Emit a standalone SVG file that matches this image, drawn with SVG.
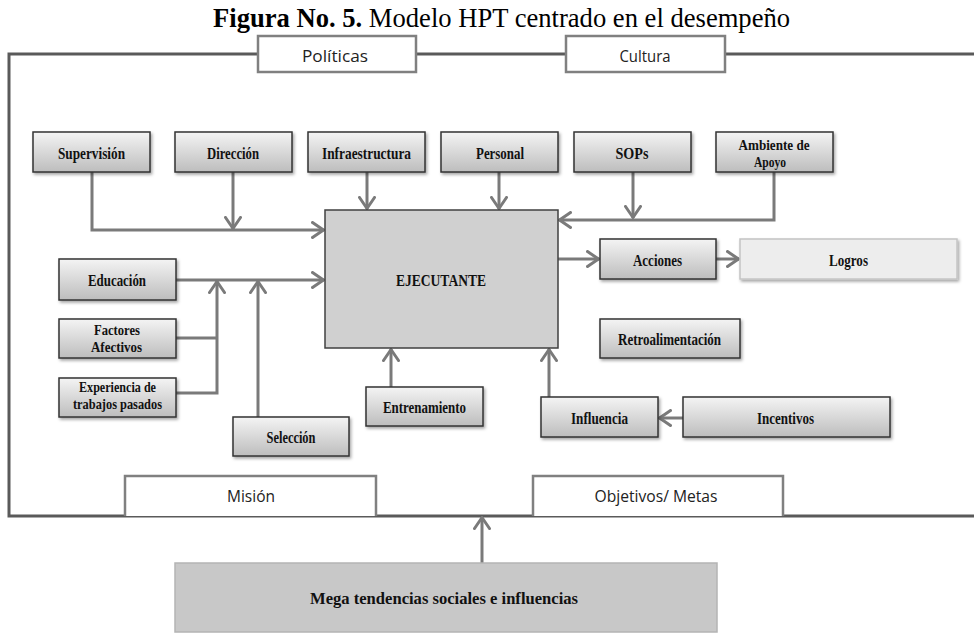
<svg xmlns="http://www.w3.org/2000/svg" width="974" height="634" viewBox="0 0 974 634">
<defs>
<linearGradient id="g" x1="0" y1="0" x2="0" y2="1">
<stop offset="0" stop-color="#f4f4f4"/>
<stop offset="1" stop-color="#bdbdbd"/>
</linearGradient>
<filter id="sh" x="-10%" y="-10%" width="130%" height="140%">
<feDropShadow dx="1.5" dy="2" stdDeviation="1.5" flood-color="#000" flood-opacity="0.35"/>
</filter>
<marker id="ah" viewBox="0 0 14 18" refX="13" refY="9" markerWidth="14" markerHeight="18" markerUnits="userSpaceOnUse" orient="auto">
<path d="M1.5,1.5 L12.5,9 L1.5,16.5" fill="none" stroke="#7a7a7a" stroke-width="3" stroke-linecap="round" stroke-linejoin="round"/>
</marker>
</defs>
<style>
.box{fill:url(#g);stroke:#333;stroke-width:1.5;filter:url(#sh)}
.lbl{font-family:"Liberation Serif","Times New Roman",serif;font-weight:bold;font-size:17.5px;fill:#111;text-anchor:middle}
.l2{font-size:14.5px}
.frm{fill:none;stroke:#5a5a5a;stroke-width:3}
.tab{fill:#fff;stroke:#808080;stroke-width:2.5}
.tl{font-family:"Open Sans","Liberation Sans",sans-serif;font-size:17px;fill:#222;text-anchor:middle}
.c{fill:none;stroke:#7a7a7a;stroke-width:3}
.ca{fill:none;stroke:#7a7a7a;stroke-width:3;marker-end:url(#ah)}
</style>
<rect width="974" height="634" fill="#fff"/>
<text x="213" y="27" font-family="Liberation Serif,Times New Roman,serif" font-size="26.6" fill="#000"><tspan font-weight="bold">Figura No. 5.</tspan> Modelo HPT centrado en el desempeño</text>

<g id="frame">
<path class="frm" d="M974,54 H9 V516 H974"/>
</g>
<g id="politicas"><rect class="tab" x="258" y="36" width="158" height="36"/><text class="tl" x="335" y="62" textLength="66" lengthAdjust="spacingAndGlyphs">Políticas</text></g>
<g id="cultura"><rect class="tab" x="566" y="36" width="159" height="36"/><text class="tl" x="645" y="62" textLength="51" lengthAdjust="spacingAndGlyphs">Cultura</text></g>
<g id="mision"><path class="tab" d="M125,516 V476 H376 V516"/><text class="tl" x="251" y="502" textLength="48" lengthAdjust="spacingAndGlyphs">Misión</text></g>
<g id="objetivos"><path class="tab" d="M533,516 V476 H783 V516"/><text class="tl" x="656" y="502" textLength="123" lengthAdjust="spacingAndGlyphs">Objetivos/ Metas</text></g>

<g id="connectors">
<path class="ca" d="M92,172 V230 H324"/>
<path class="ca" d="M233,172 V229"/>
<path class="ca" d="M367,172 V209"/>
<path class="ca" d="M499,172 V209"/>
<path class="ca" d="M633,172 V218"/>
<path class="ca" d="M774,172 V220 H559"/>
<path class="ca" d="M176,280 H324"/>
<path class="c" d="M176,338 H217"/>
<path class="ca" d="M176,393 H217 V281"/>
<path class="ca" d="M258,417 V281"/>
<path class="ca" d="M391,387 V349"/>
<path class="ca" d="M558,259 H599"/>
<path class="ca" d="M716,259 H739"/>
<path class="ca" d="M683,418 H659"/>
<path class="ca" d="M549,397 V349"/>
<path class="ca" d="M482,563 V517"/>
</g>

<g id="supervision"><rect class="box" x="33" y="132" width="117" height="40"/><text class="lbl" x="91.5" y="159" textLength="67" lengthAdjust="spacingAndGlyphs">Supervisión</text></g>
<g id="direccion"><rect class="box" x="175" y="132" width="117" height="40"/><text class="lbl" x="233" y="159" textLength="52" lengthAdjust="spacingAndGlyphs">Dirección</text></g>
<g id="infraestructura"><rect class="box" x="308" y="132" width="117" height="40"/><text class="lbl" x="366.5" y="159" textLength="89" lengthAdjust="spacingAndGlyphs">Infraestructura</text></g>
<g id="personal"><rect class="box" x="441" y="132" width="117" height="40"/><text class="lbl" x="500" y="159" textLength="48" lengthAdjust="spacingAndGlyphs">Personal</text></g>
<g id="sops"><rect class="box" x="574" y="132" width="117" height="40"/><text class="lbl" x="632" y="159" textLength="33" lengthAdjust="spacingAndGlyphs">SOPs</text></g>
<g id="ambiente"><rect class="box" x="716" y="132" width="117" height="40"/><text class="lbl l2" x="774" y="150" textLength="71" lengthAdjust="spacingAndGlyphs">Ambiente de</text><text class="lbl l2" x="770" y="167" textLength="32" lengthAdjust="spacingAndGlyphs">Apoyo</text></g>

<g id="ejecutante"><rect x="325" y="210" width="233" height="138" fill="#d0d0d0" stroke="#404040" stroke-width="1.5"/><text class="lbl" x="441" y="286" textLength="90" lengthAdjust="spacingAndGlyphs">EJECUTANTE</text></g>

<g id="educacion"><rect class="box" x="59" y="259" width="117" height="41"/><text class="lbl" x="117" y="286" textLength="58" lengthAdjust="spacingAndGlyphs">Educación</text></g>
<g id="factores"><rect class="box" x="59" y="319" width="117" height="39"/><text class="lbl l2" x="117" y="335" textLength="46" lengthAdjust="spacingAndGlyphs">Factores</text><text class="lbl l2" x="116.5" y="352" textLength="51" lengthAdjust="spacingAndGlyphs">Afectivos</text></g>
<g id="experiencia"><rect class="box" x="59" y="378" width="117" height="39"/><text class="lbl l2" x="117.5" y="392" textLength="77" lengthAdjust="spacingAndGlyphs">Experiencia de</text><text class="lbl l2" x="117.5" y="409" textLength="89" lengthAdjust="spacingAndGlyphs">trabajos pasados</text></g>
<g id="seleccion"><rect class="box" x="233" y="417" width="116" height="39"/><text class="lbl" x="291" y="443" textLength="49" lengthAdjust="spacingAndGlyphs">Selección</text></g>
<g id="entrenamiento"><rect class="box" x="366" y="387" width="117" height="39"/><text class="lbl" x="424.5" y="413" textLength="83" lengthAdjust="spacingAndGlyphs">Entrenamiento</text></g>

<g id="acciones"><rect class="box" x="600" y="239" width="116" height="40"/><text class="lbl" x="657.5" y="266" textLength="49" lengthAdjust="spacingAndGlyphs">Acciones</text></g>
<g id="logros"><rect x="740" y="239" width="217" height="40" fill="#ededed" stroke="#c4c4c4" stroke-width="1.5" filter="url(#sh)"/><text class="lbl" x="848.5" y="266" textLength="39" lengthAdjust="spacingAndGlyphs">Logros</text></g>
<g id="retroalimentacion"><rect class="box" x="600" y="319" width="140" height="39"/><text class="lbl" x="669.5" y="345" textLength="103" lengthAdjust="spacingAndGlyphs">Retroalimentación</text></g>
<g id="influencia"><rect class="box" x="541" y="397" width="117" height="40"/><text class="lbl" x="599.5" y="424" textLength="57" lengthAdjust="spacingAndGlyphs">Influencia</text></g>
<g id="incentivos"><rect class="box" x="683" y="397" width="207" height="40"/><text class="lbl" x="785.5" y="424" textLength="57" lengthAdjust="spacingAndGlyphs">Incentivos</text></g>

<g id="mega"><rect x="175" y="563" width="542" height="69" fill="#c8c8c8" stroke="#b4b4b4" stroke-width="1.5"/><text class="lbl" x="444" y="604" font-size="18.5" textLength="268" lengthAdjust="spacingAndGlyphs">Mega tendencias sociales e influencias</text></g>
</svg>
